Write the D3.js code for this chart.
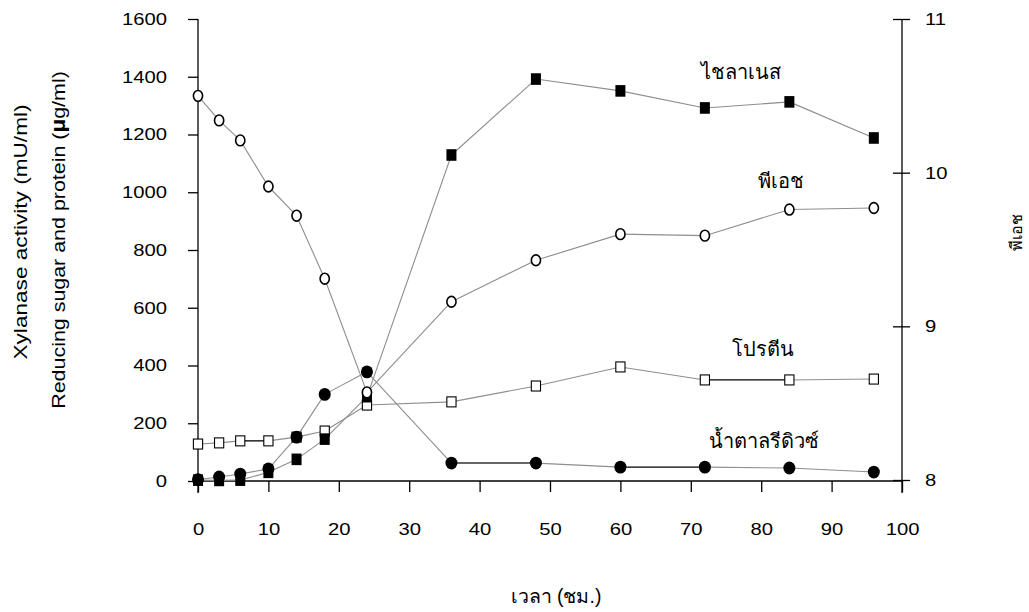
<!DOCTYPE html>
<html>
<head>
<meta charset="utf-8">
<script src="https://cdn.jsdelivr.net/npm/d3@7"></script>
<style>
  body { margin: 0; background: #fff; }
  text { font-family: "Liberation Sans", Arial, Helvetica, sans-serif; }
</style>
</head>
<body>
<svg id="chart"></svg>
<script>
// time points (hours)
var hours = [0, 3, 6, 10, 14, 18, 24, 36, 48, 60, 72, 84, 96];

// series values
var xylanase = [3, 2, 3, 30, 75, 145, 292, 1129, 1392, 1351, 1292, 1313, 1188];
var protein  = [128, 132, 139, 139, 152, 173, 263, 274, 329, 395, 350, 350, 353];
var sugar    = [5, 14, 24, 42, 152, 300, 378, 62, 62, 48, 48, 45, 31];
var ph       = [10.5, 10.34, 10.21, 9.91, 9.72, 9.31, 8.57, 9.16, 9.43, 9.6, 9.59, 9.76, 9.77];

var xTicks = [0, 10, 20, 30, 40, 50, 60, 70, 80, 90, 100];
var yTicks = [0, 200, 400, 600, 800, 1000, 1200, 1400, 1600];
var phTicks = [8, 9, 10, 11];

// segments drawn darker in the original (index of the starting point)
var blackSegs = { protein: [2, 10], sugar: [9] };
var greySegs = { sugar: [7] };

var config = {
  w: 1029,
  h: 612,
  left: 198,
  right: 902,
  top: 19,
  bottom: 481,
  stretch: 1.19   // original lettering is wider than Arial
};

var svg = d3.select("#chart")
  .attr("width", config.w)
  .attr("height", config.h);

var x = d3.scaleLinear().domain([0, 100]).range([config.left, config.right]);
var y = d3.scaleLinear().domain([0, 1600]).range([config.bottom, config.top]);
var yr = d3.scaleLinear().domain([8, 11]).range([config.bottom - 1, config.top]);

function stretch(sel, k) {
  sel.each(function() {
    var l = this.getComputedTextLength();
    d3.select(this)
      .attr("textLength", l * k)
      .attr("lengthAdjust", "spacingAndGlyphs");
  });
}

// ---- axes ----
var gx = svg.append("g")
  .attr("transform", "translate(0," + config.bottom + ")")
  .call(d3.axisBottom(x).tickValues(xTicks).tickSize(11).tickPadding(31)
    .tickFormat(d3.format("d")).tickSizeOuter(0));

var gy = svg.append("g")
  .attr("transform", "translate(" + config.left + ",0)")
  .call(d3.axisLeft(y).tickValues(yTicks).tickSize(10).tickPadding(21)
    .tickFormat(d3.format("d")).tickSizeOuter(0));

var gr = svg.append("g")
  .attr("transform", "translate(" + config.right + ",0)")
  .call(d3.axisRight(yr).tickValues(phTicks).tickSize(8).tickPadding(15)
    .tickFormat(d3.format("d")).tickSizeOuter(0));

gr.selectAll(".tick line").attr("x1", -9);

[gx, gy, gr].forEach(function(g) {
  g.select(".domain").remove();
  g.selectAll(".tick line").attr("stroke", "#000").attr("stroke-width", 1.3);
  g.selectAll(".tick text")
    .attr("font-size", 17)
    .attr("font-family", "Liberation Sans, Arial, sans-serif")
    .attr("fill", "#000");
  stretch(g.selectAll(".tick text"), config.stretch);
});

// axis lines (left and right run a little below the baseline)
svg.append("line")
  .attr("x1", config.left).attr("x2", config.right)
  .attr("y1", config.bottom).attr("y2", config.bottom)
  .attr("stroke", "#000").attr("stroke-width", 1.3);
svg.append("line")
  .attr("x1", config.left).attr("x2", config.left)
  .attr("y1", config.top).attr("y2", config.bottom + 12)
  .attr("stroke", "#000").attr("stroke-width", 1.3);
svg.append("line")
  .attr("x1", config.right).attr("x2", config.right)
  .attr("y1", config.top).attr("y2", config.bottom + 12)
  .attr("stroke", "#000").attr("stroke-width", 1.3);

// ---- titles ----
var ytitle = svg.append("text")
  .attr("transform", "translate(27,232) rotate(-90)")
  .attr("text-anchor", "middle")
  .attr("font-size", 19)
  .text("Xylanase activity (mU/ml)");
stretch(ytitle, config.stretch);

var ytitle2 = svg.append("text")
  .attr("transform", "translate(65,240) rotate(-90)")
  .attr("text-anchor", "middle")
  .attr("font-size", 18);
ytitle2.append("tspan").text("Reducing sugar and protein (");
ytitle2.append("tspan").attr("font-weight", "bold").attr("font-size", 20).text("\u00b5");
ytitle2.append("tspan").text("g/ml)");
stretch(ytitle2, config.stretch);

svg.append("text")
  .attr("transform", "translate(1022,232) rotate(-90)")
  .attr("text-anchor", "middle")
  .attr("font-size", 16)
  .text("พีเอช");

svg.append("text")
  .attr("x", 556).attr("y", 603)
  .attr("text-anchor", "middle")
  .attr("font-size", 19.5)
  .text("เวลา (ชม.)");

// ---- series ----
function pts(vals, scale) {
  return hours.map(function(h, i) { return { x: x(h), y: scale(vals[i]) }; });
}

var line = d3.line()
  .x(function(d) { return d.x; })
  .y(function(d) { return d.y; });

function drawLine(p, black, grey) {
  black = black || [];
  grey = grey || [];
  for (var i = 0; i < p.length - 1; i++) {
    var col = "#8e8e8e", sw = 1.1;
    if (black.indexOf(i) >= 0) { col = "#000"; sw = 1.3; }
    else if (grey.indexOf(i) >= 0) { col = "#666"; sw = 2; }
    svg.append("path")
      .attr("d", line([p[i], p[i + 1]]))
      .attr("fill", "none")
      .attr("stroke", col)
      .attr("stroke-width", sw);
  }
}

var pXyl = pts(xylanase, y);
var pPro = pts(protein, y);
var pSug = pts(sugar, y);
var pPh = pts(ph, yr);

drawLine(pPh);
drawLine(pPro, blackSegs.protein);
drawLine(pSug, blackSegs.sugar, greySegs.sugar);
drawLine(pXyl);

// open squares (protein)
svg.selectAll("rect.pro").data(pPro).enter().append("rect")
  .attr("class", "pro")
  .attr("x", function(d) { return d.x - 4.6; })
  .attr("y", function(d) { return d.y - 5; })
  .attr("width", 9.2).attr("height", 10)
  .attr("fill", "#fff").attr("stroke", "#000").attr("stroke-width", 1.1);

// filled circles (reducing sugar)
svg.selectAll("ellipse.sug").data(pSug).enter().append("ellipse")
  .attr("class", "sug")
  .attr("cx", function(d) { return d.x; })
  .attr("cy", function(d) { return d.y; })
  .attr("rx", 6).attr("ry", 6.4)
  .attr("fill", "#000");

// filled squares (xylanase)
svg.selectAll("rect.xyl").data(pXyl).enter().append("rect")
  .attr("class", "xyl")
  .attr("x", function(d) { return d.x - 5; })
  .attr("y", function(d) { return d.y - 5.8; })
  .attr("width", 10).attr("height", 11.6)
  .attr("fill", "#000");

// open circles (pH)
svg.selectAll("ellipse.ph").data(pPh).enter().append("ellipse")
  .attr("class", "ph")
  .attr("cx", function(d) { return d.x; })
  .attr("cy", function(d) { return d.y; })
  .attr("rx", 4.6).attr("ry", 5.4)
  .attr("fill", "#fff").attr("stroke", "#000").attr("stroke-width", 1.6);

// ---- series labels ----
var labels = [
  { t: "ไชลาเนส", x: 741, y: 79 },
  { t: "พีเอช", x: 781, y: 188 },
  { t: "โปรตีน", x: 763, y: 356 },
  { t: "น้ำตาลรีดิวซ์", x: 764, y: 448 }
];
svg.selectAll("text.lab").data(labels).enter().append("text")
  .attr("class", "lab")
  .attr("x", function(d) { return d.x; })
  .attr("y", function(d) { return d.y; })
  .attr("text-anchor", "middle")
  .attr("font-size", 20)
  .text(function(d) { return d.t; });
</script>
</body>
</html>
